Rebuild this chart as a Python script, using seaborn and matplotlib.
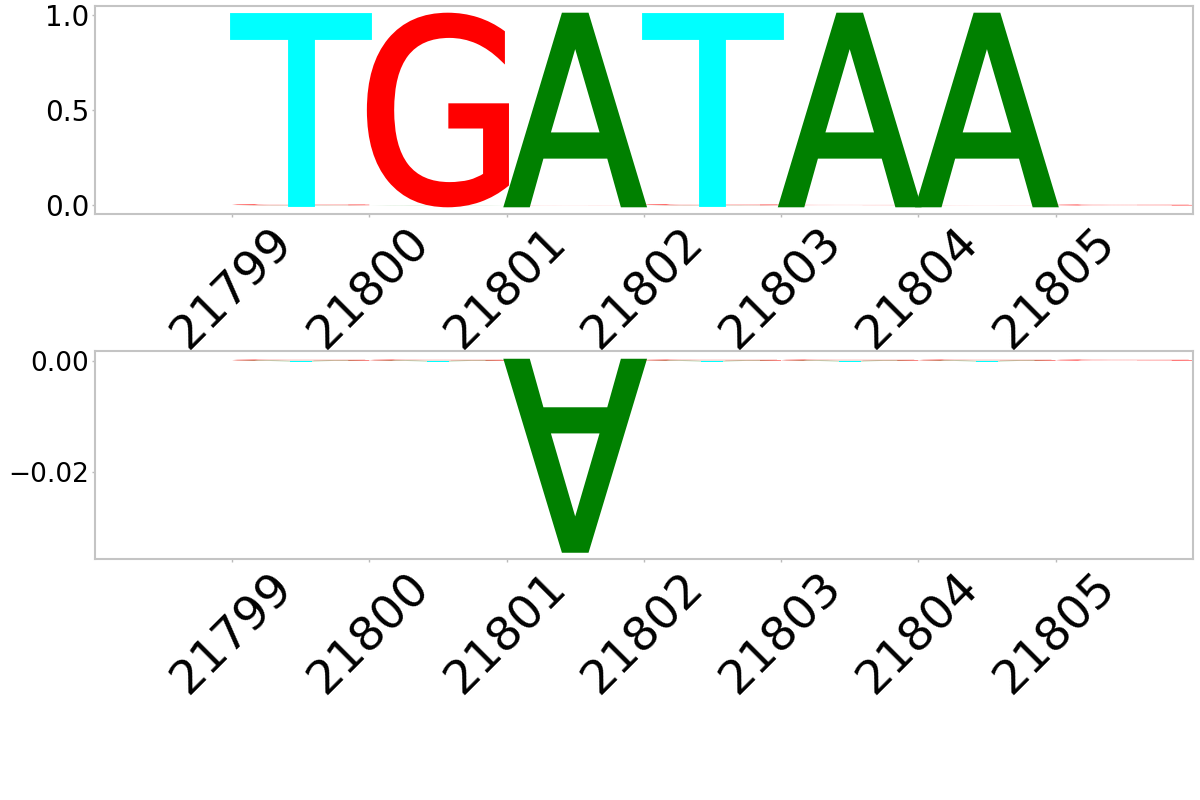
import matplotlib
matplotlib.use('Agg')
import matplotlib.pyplot as plt
import seaborn as sns
from matplotlib.textpath import TextPath
from matplotlib.patches import PathPatch
from matplotlib.font_manager import FontProperties
from matplotlib.transforms import Affine2D

sns.set_style("white")
plt.rcParams['text.color'] = 'black'
plt.rcParams['xtick.color'] = 'black'
plt.rcParams['ytick.color'] = 'black'

# positions of the logo
positions = [21799, 21800, 21801, 21802, 21803, 21804, 21805]
letters = ['A', 'C', 'G', 'T']
letter_colors = {'A': 'green', 'C': 'blue', 'G': 'red', 'T': 'cyan'}

# top logo (probabilities)
top_A = [0.001, 0.001, 0.996, 0.001, 0.996, 0.996, 0.0]
top_C = [0.0, 0.0, 0.0, 0.0, 0.0, 0.0, 0.0]
top_G = [0.005, 0.996, 0.001, 0.005, 0.002, 0.001, 0.005]
top_T = [0.993, 0.002, 0.002, 0.993, 0.001, 0.002, 0.0]

# bottom logo (differences)
bot_A = [-0.0001, -0.0001, -0.0341, -0.0001, -0.0001, -0.0001, 0.0]
bot_C = [0.0, 0.0, 0.0, 0.0, 0.0, 0.0, 0.0]
bot_G = [0.0002, 0.0002, 0.0, 0.0002, 0.0002, 0.0002, 0.0002]
bot_T = [-0.0002, -0.0002, -0.0001, -0.0002, -0.0002, -0.0002, 0.0]

font = FontProperties(family='DejaVu Sans', weight='normal')


def draw_letter(ax, ch, x, y, w, h, color, edge):
    tp = TextPath((0, 0), ch, size=1, prop=font)
    ext = tp.get_extents()
    t = Affine2D().translate(-ext.x0, -ext.y0).scale(w / ext.width, abs(h) / ext.height)
    if h < 0:
        t = t.scale(1, -1)  # letters below zero are flipped
    t = t.translate(x, y)
    patch = PathPatch(t.transform_path(tp), facecolor=color, edgecolor=color,
                      linewidth=edge, joinstyle='miter')
    ax.add_patch(patch)


def draw_logo(ax, values, span):
    for i, pos in enumerate(positions):
        col = [(values[l][i], l) for l in letters if values[l][i] != 0]
        pos_vals = sorted([c for c in col if c[0] > 0])
        neg_vals = sorted([c for c in col if c[0] < 0], reverse=True)
        for group in (pos_vals, neg_vals):
            y = 0.0
            for v, l in group:
                # thicken the big glyphs a little, leave tiny ones as hairlines
                edge = 3.5 if abs(v) > 0.2 * span else 0
                draw_letter(ax, l, pos, y, 1.0, v, letter_colors[l], edge)
                y += v


def style_axes(ax, ylabelsize):
    ax.set_xlim(21798, 21806)
    ax.set_xticks(positions)
    ax.set_xticklabels(positions, rotation=45, fontsize=34)
    ax.tick_params(axis='y', labelsize=ylabelsize)
    ax.tick_params(axis='both', which='both', length=2, width=1, pad=2,
                   color='#bbbbbb', labelcolor='black', bottom=True, left=True)
    for s in ax.spines.values():
        s.set_color('#c4c4c4')
        s.set_linewidth(1.5)


fig = plt.figure(figsize=(12, 8), dpi=100)

ax1 = fig.add_axes([0.079, 0.732, 0.915, 0.261])
draw_logo(ax1, {'A': top_A, 'C': top_C, 'G': top_G, 'T': top_T}, 1.0)
ax1.set_ylim(-0.047, 1.049)
ax1.set_yticks([0.0, 0.5, 1.0])
style_axes(ax1, 20)

ax2 = fig.add_axes([0.079, 0.301, 0.915, 0.26])
draw_logo(ax2, {'A': bot_A, 'C': bot_C, 'G': bot_G, 'T': bot_T}, 0.0341)
ax2.set_ylim(-0.0358, 0.0017)
ax2.set_yticks([-0.02, 0.0])
style_axes(ax2, 19)

plt.savefig('out.png', dpi=100)
